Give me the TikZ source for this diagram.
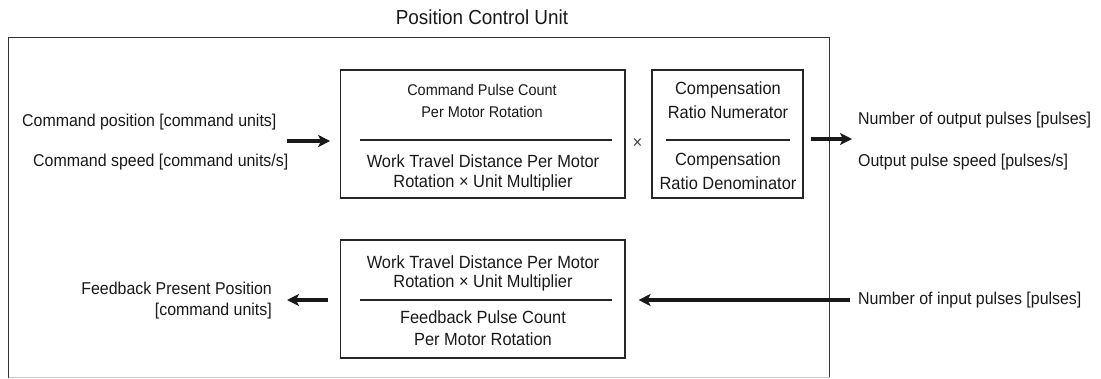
\documentclass[tikz,border=0pt]{standalone}
\usepackage{fontspec}
\setmainfont{Liberation Sans}[FakeStretch=0.93]
\usetikzlibrary{arrows.meta}
\begin{document}
\begin{tikzpicture}[x=1bp,y=-1bp,
  box/.style={draw=black!85, line width=1.4bp, inner sep=0pt},
  txt/.style={inner sep=0pt, text=black!90, font=\fontsize{17.2}{19}\selectfont},
  btxt/.style={inner sep=0pt, text=black!90, font=\fontsize{17.7}{19}\selectfont},
  stxt/.style={inner sep=0pt, text=black!90, font=\fontsize{15.6}{18}\selectfont},
  divl/.style={draw=black!85, line width=1.3bp},
  arr/.style={draw=black!90, line width=3.3bp, -{Stealth[length=12bp,width=12bp,inset=3bp]}}]
\useasboundingbox (0,0) rectangle (1101,378);
% title
\node[inner sep=0pt, text=black!90, font=\fontsize{20.4}{22}\selectfont] (title) at (482,17) {Position Control Unit};
% outer frame
\draw[draw=black!80, line width=1.6bp] (8.5,378) -- (8.5,37.5) -- (829.5,37.5) -- (829.5,378);
\draw[draw=black!20, line width=1bp] (8.5,377) -- (829.5,377);
% boxes
\node[box, minimum width=284.5bp, minimum height=128bp] (b1) at (482.6,134) {};
\node[box, minimum width=151bp, minimum height=128bp] (b2) at (727.5,134) {};
\node[box, minimum width=284.5bp, minimum height=118bp] (b3) at (482.6,299) {};
% box 1 content
\node[stxt] (t11) at (482,90) {Command Pulse Count};
\node[stxt] (t12) at (482,112) {Per Motor Rotation};
\draw[divl] (360,140) -- (612,140);
\node[btxt] (t13) at (483,161) {Work Travel Distance Per Motor};
\node[btxt] (t14) at (483,183) {Rotation × Unit Multiplier};
% times
\node[inner sep=0pt, text=black!75, font=\fontsize{18}{20}\selectfont] (times) at (637.5,144) {×};
% box 2 content
\node[btxt] (t21) at (728,90) {Compensation};
\node[btxt] (t22) at (728,112) {Ratio Numerator};
\draw[divl] (666,140) -- (790,140);
\node[btxt] (t23) at (728,161) {Compensation};
\node[btxt] (t24) at (728,183) {Ratio Denominator};
% box 3 content
\node[btxt] (t31) at (483,262) {Work Travel Distance Per Motor};
\node[btxt] (t32) at (483,283) {Rotation × Unit Multiplier};
\draw[divl] (360,300) -- (612,300);
\node[btxt] (t33) at (483,317) {Feedback Pulse Count};
\node[btxt] (t34) at (483,339) {Per Motor Rotation};
% side texts
\node[txt, anchor=west] (cp) at (22,122) {Command position [command units]};
\node[txt, anchor=west] (cs) at (33,162) {Command speed [command units/s]};
\node[txt, anchor=west] (op) at (858,120) {Number of output pulses [pulses]};
\node[txt, anchor=west] (os) at (858,162) {Output pulse speed [pulses/s]};
\node[txt, anchor=west] (ip) at (858,300) {Number of input pulses [pulses]};
\node[txt, anchor=east, align=right] (fb) at (272,301) {Feedback Present Position\\[2bp][command units]};
% arrows
\coordinate (cin) at (287,141);
\coordinate (cout) at (852,139);
\coordinate (pin) at (850,300);
\coordinate (fout) at (287,300);
\draw[arr, shorten >=9.5bp] (cin) -- (cin -| b1.west);
\draw[arr, shorten <=7bp] (b2.east |- cout) -- (cout);
\draw[arr, shorten >=13bp] (pin) -- (pin -| b3.east);
\draw[arr, shorten <=11.5bp] (fout -| b3.west) -- (fout);
\end{tikzpicture}
\end{document}
